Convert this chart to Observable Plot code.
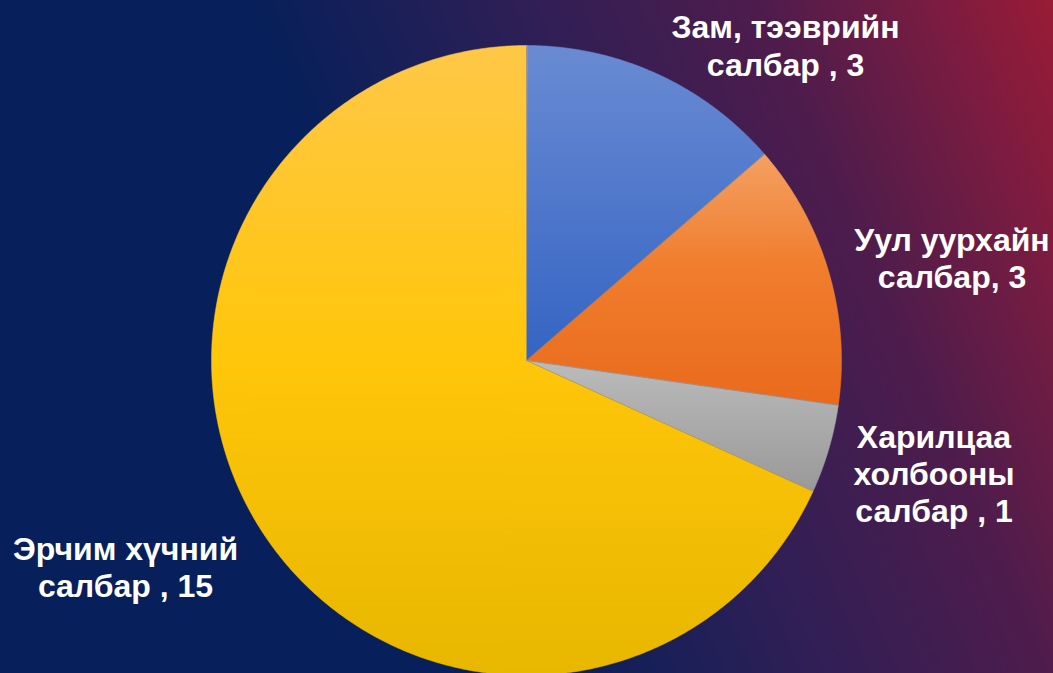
<!DOCTYPE html>
<html>
<head>
<meta charset="utf-8">
<script src="https://cdn.jsdelivr.net/npm/d3@7"></script>
<script src="https://cdn.jsdelivr.net/npm/@observablehq/plot@0.6"></script>
<style>
  html, body { margin: 0; padding: 0; width: 1053px; height: 673px; overflow: hidden; }
  body {
    background: linear-gradient(66.7deg, #071F5A 0%, #071F5A 40%, #2E1F56 60%, #4E1C4C 78%, #701C43 88%, #9A1B36 100%);
  }
  #chart svg { display: block; background: transparent; }
</style>
</head>
<body>
<div id="chart"></div>
<script>
// ---- data ----
const categories = ["Зам, тээврийн\nсалбар", "Уул уурхайн\nсалбар", "Харилцаа\nхолбооны\nсалбар", "Эрчим хүчний\nсалбар"];
const separators = [" , ", ", ", " , ", " , "];
const values = [3, 3, 1, 15];

// ---- style ----
const gradients = [
  [["0%", "#6A8BD3"], ["100%", "#3464C3"]],
  [["0%", "#F4A062"], ["45%", "#F07D2D"], ["100%", "#EA6A1C"]],
  [["0%", "#BBBBBB"], ["100%", "#999999"]],
  [["0%", "#FFC747"], ["50%", "#FFC60A"], ["100%", "#E8B700"]]
];
const labelRadius = 1.38;
const labelOffsets = [[78.4, 80], [8.4, 19.5], [-9.6, -9.5], [-35.3, -28.5]];

// ---- geometry (unit circle, angle clockwise from 12 o'clock) ----
const total = d3.sum(values);
let acc = 0;
const slices = values.map((v, i) => {
  const a0 = acc / total * 2 * Math.PI;
  acc += v;
  const a1 = acc / total * 2 * Math.PI;
  const pts = [{x: 0, y: 0}];
  const steps = Math.max(8, Math.ceil((a1 - a0) / (Math.PI / 360)));
  for (let k = 0; k <= steps; k++) {
    const a = a0 + (a1 - a0) * k / steps;
    pts.push({x: Math.sin(a), y: Math.cos(a)});
  }
  const mid = (a0 + a1) / 2;
  return {
    i, a0, a1, pts,
    label: categories[i] + separators[i] + values[i],
    lx: Math.sin(mid) * labelRadius,
    ly: Math.cos(mid) * labelRadius
  };
});
const edges = slices.map(s => ({x2: Math.sin(s.a0), y2: Math.cos(s.a0)}));

const defs = () => {
  const d = d3.create("svg:defs");
  gradients.forEach((stops, i) => {
    const g = d.append("linearGradient").attr("id", "sg" + i)
      .attr("x1", 0).attr("y1", 0).attr("x2", 0).attr("y2", 1);
    stops.forEach(([o, c]) => g.append("stop").attr("offset", o).attr("stop-color", c));
  });
  return d.node();
};

const plot = Plot.plot({
  width: 1053,
  height: 673,
  margin: 0,
  x: {domain: [-1, 1], range: [211, 841], axis: null},
  y: {domain: [-1, 1], range: [675, 45], axis: null},
  style: {background: "transparent", overflow: "visible"},
  marks: [
    defs,
    ...slices.map(s => Plot.line(s.pts, {
      x: "x", y: "y", curve: "linear-closed",
      fill: `url(#sg${s.i})`, stroke: `url(#sg${s.i})`, strokeWidth: 0.5
    })),
    Plot.link(edges, {x1: 0, y1: 0, x2: "x2", y2: "y2", stroke: "#8a8a8a", strokeWidth: 0.8, strokeOpacity: 0.7}),
    ...slices.map(s => Plot.text([s], {
      x: "lx", y: "ly", text: "label",
      dx: labelOffsets[s.i][0],
      dy: labelOffsets[s.i][1],
      fill: "white",
      fontSize: 32,
      fontWeight: "bold",
      fontFamily: "'Liberation Sans', Arial, sans-serif",
      lineHeight: 1.16,
      textAnchor: "middle",
      lineAnchor: "middle"
    }))
  ]
});

document.getElementById("chart").appendChild(plot);
</script>
</body>
</html>
